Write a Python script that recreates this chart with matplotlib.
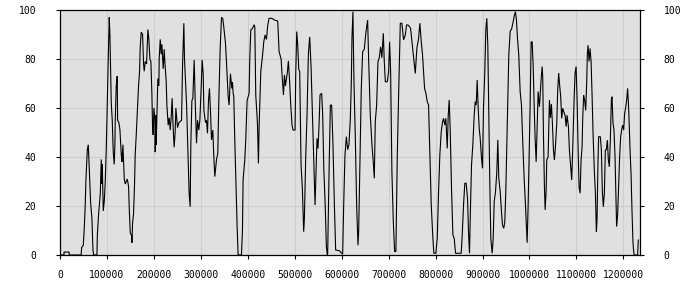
import matplotlib
matplotlib.use("Agg")
import matplotlib.pyplot as plt

positions = [0, 8500, 8600, 19500, 19600, 45000, 46000, 49600, 51700, 53500, 55300, 58200, 60200, 61000, 62400,
    65300, 68000, 70200, 71700, 78700, 79500, 82300, 84400, 85800, 87900, 89300, 90000, 92200, 94300, 96400,
    98500, 100700, 102800, 104900, 106300, 107800, 109200, 111300, 113400, 115500, 116900, 117700, 119800,
    121900, 122700, 125500, 127700, 130500, 131900, 134000, 136900, 139000, 143300, 146100, 147500, 149700,
    152500, 153200, 154600, 156700, 158800, 160200, 162400, 164500, 167300, 169500, 170900, 173000, 175900,
    178000, 179400, 181500, 184400, 187200, 189300, 191500, 193600, 195700, 197100, 198500, 200000, 202100,
    202800, 204200, 204900, 207000, 208400, 210600, 211300, 213500, 215600, 217000, 219900, 221900, 224000,
    226200, 227700, 230500, 232600, 234700, 236800, 238900, 241000, 243100, 245300, 246800, 250300, 253200,
    258900, 261000, 263800, 265200, 269500, 272300, 275100, 277300, 278700, 280900, 283000, 285800, 288000,
    290800, 293000, 295700, 297900, 300700, 302800, 305000, 306500, 310000, 312100, 314200, 316300, 318400,
    320500, 322700, 325500, 327700, 329800, 333300, 336100, 338300, 341100, 344000, 346800, 348900, 352500,
    354600, 358200, 360300, 363100, 366000, 367400, 368800, 370200, 372300, 374500, 377300, 379400, 386500,
    388700, 390000, 393600, 395700, 398500, 402800, 404200, 406400, 410000, 413500, 415000, 417000, 420600,
    422700, 424200, 427700, 431900, 434000, 436900, 439700, 442600, 445400, 451100, 458200, 463800, 466700,
    471000, 473000, 476000, 478100, 480200, 484500, 486500, 489400, 491500, 494300, 496400, 500700, 502100,
    504300, 506400, 508500, 510600, 513500, 516300, 519100, 520600, 523400, 526200, 529100, 531900, 534800,
    537600, 540400, 543300, 545400, 547500, 549600, 551800, 553900, 557400, 559600, 562000, 565000, 567400,
    569500, 570200, 573000, 575900, 578700, 581500, 584500, 587200, 595000, 598500, 602100, 604300, 607000,
    610000, 612800, 615500, 618500, 620600, 621900, 624000, 626200, 629100, 631900, 634800, 636200, 639000,
    641800, 644700, 648200, 651800, 655300, 657400, 661000, 664500, 667300, 669500, 671600, 674500, 677300,
    680100, 683000, 685700, 688700, 690800, 693000, 697200, 700000, 702100, 704300, 707000, 710000, 712800,
    715500, 718500, 721300, 724900, 728300, 731900, 735500, 738300, 741100, 744700, 746800, 751100, 754600,
    756800, 760200, 763800, 766600, 769500, 772300, 774500, 776600, 779400, 782300, 785100, 787900, 790800,
    794300, 796400, 800600, 803600, 806400, 809100, 812100, 814900, 817000, 819800, 821900, 824900, 827000,
    829100, 831300, 834000, 836900, 839700, 842600, 854600, 856800, 859600, 862300, 865200, 868100, 870200,
    872300, 874500, 876600, 879400, 882300, 884500, 886600, 888700, 890800, 893000, 895100, 897900, 900000,
    902100, 904900, 907000, 909100, 911300, 913400, 915500, 917700, 920600, 922800, 924900, 927700, 930500,
    932600, 934700, 937700, 940400, 942600, 945300, 947500, 949600, 951800, 953800, 956000, 958900, 962300,
    965300, 968100, 970200, 972300, 974500, 977300, 980200, 983000, 985700, 988700, 991500, 993600, 995100,
    997200, 999400, 1001500, 1003600, 1005800, 1007900, 1010000, 1012100, 1014300, 1016400, 1018500, 1021300,
    1024800, 1027000, 1028300, 1029800, 1031900, 1033400, 1035500, 1036900, 1039700, 1042600, 1044700, 1046800,
    1048900, 1051100, 1053200, 1055300, 1058200, 1060200, 1062300, 1064500, 1066600, 1068700, 1070900, 1073000,
    1076000, 1078100, 1080200, 1083000, 1085100, 1087900, 1090000, 1092100, 1095100, 1097200, 1099400, 1101500,
    1103600, 1105700, 1107900, 1110000, 1112100, 1113500, 1115500, 1117700, 1119800, 1121900, 1123400, 1124900,
    1127000, 1129100, 1131300, 1133400, 1135500, 1138300, 1140400, 1142600, 1144000, 1146100, 1147400, 1151000,
    1153200, 1155300, 1157400, 1159600, 1161700, 1163800, 1166000, 1168100, 1170200, 1172300, 1174500, 1175900,
    1178000, 1180100, 1182300, 1184500, 1185700, 1187900, 1190000, 1192100, 1194300, 1196400, 1198500, 1200700,
    1202800, 1204900, 1207000, 1209100, 1210600, 1212100, 1214300, 1216400, 1218500, 1220600, 1222800, 1230400,
    1231900]

values = [0, 0, 1.2, 1.2, 0, 0, 3, 4, 11, 19, 31, 43, 45, 41, 35,
    21, 15, 2, 0, 0, 8, 17, 22, 25, 39, 29, 37, 18, 22, 30,
    43, 63, 80, 97, 90, 76, 62, 55, 42, 37, 45, 55, 69,
    73, 55, 54, 51, 41, 38, 45, 31, 29, 31, 28, 19, 9,
    8, 5, 13, 17, 29, 41, 49, 58, 69, 75, 85, 91, 90,
    78, 75, 79, 78, 92, 88, 80, 79, 66, 53, 49, 60, 55,
    42, 57, 45, 61, 72, 69, 80, 88, 82, 86, 76, 84, 77,
    71, 61, 53, 56, 51, 56, 64, 52, 44, 50, 60, 52, 54,
    55, 77, 94.6, 80, 62, 43, 25, 19.7, 45, 63, 64, 79.6, 63,
    45.6, 55, 51, 55, 68, 79.6, 74, 59, 54, 55, 49.7, 63, 68,
    59, 47, 51, 40, 32, 38.8, 41.5, 63, 83.7, 97, 96.5, 93, 86.4,
    78.9, 64.6, 61.2, 74, 68, 70.5, 66, 64.6, 47, 31.8, 11.6, 0, 0,
    10, 30.6, 38.8, 47, 63, 66, 79.6, 91.8, 92.5, 94, 93, 65.3, 53.8,
    37.4, 53, 74.8, 82.3, 87, 89.8, 88, 93.9, 96.6, 96.6, 95.8, 95.5, 83,
    80, 73.5, 65.3, 73.5, 69, 74.8, 79.2, 70, 61.2, 53, 51, 51, 73.5,
    91.2, 85.7, 76, 74.8, 36.7, 27, 9.5, 15, 40, 57, 82, 89, 76.9,
    58.5, 40.8, 20.4, 34, 47.6, 43.5, 53, 65.3, 66, 57, 35, 20, 3.4,
    0, 0.7, 32.7, 61.2, 61.2, 45, 20.4, 2, 1.8, 1, 0.3, 20.4, 40.8,
    48.3, 43, 45, 55.8, 70.7, 88.4, 99.3, 70.7, 47.6, 20.4, 4, 9.5, 38,
    68, 83, 84, 91.2, 95.9, 80.3, 57, 45, 38, 31.3, 54.4, 61.2, 78.9,
    80.5, 85, 80.5, 90.5, 78.9, 70.7, 70.7, 74.8, 87, 74.8, 34, 13.6, 1.4,
    1.4, 40.8, 65.3, 94.6, 94.6, 87.8, 89.8, 93.9, 93.9, 93.2, 92.5, 84.4, 77.6,
    74.1, 84.4, 88.4, 94.6, 87, 81.6, 74.8, 68, 66, 62.6, 61.2, 40.8, 20.4,
    6.8, 0.7, 0.7, 6.8, 25.8, 40.8, 50.3, 54.4, 55.8, 53, 55.8, 43.5, 57,
    63.3, 50.3, 27.2, 8.2, 6.8, 0.7, 0.7, 8.2, 20.4, 29.3, 29.3, 23.1, 9.5,
    0.7, 20.4, 36.7, 45, 57, 62.6, 61.2, 71.4, 59.9, 51.7, 47.6, 39.5, 35.4,
    59.9, 74.8, 91.8, 96.6, 85.7, 57, 29.9, 6.8, 0.7, 6.8, 21.8, 25.8, 34,
    47, 31.3, 25.8, 17.7, 12.2, 10.9, 13.6, 25.8, 44.9, 64, 81.6, 91.2, 92.5,
    95.2, 98, 99.3, 95.9, 88.4, 81.6, 66.7, 61.2, 46.3, 31.3, 20.4, 10.9, 5,
    20.4, 40.8, 61.2, 87, 87, 77.6, 61.2, 47.6, 38, 51.7, 66.7, 60.5,
    71.4, 76.9, 72.8, 49.7, 27.9, 18.4, 25.9, 38.8, 40, 63.3, 56, 61.6,
    53.8, 42.9, 38.8, 44, 53.8, 67.3, 74.3, 68.9, 64.6, 55.8, 59.9, 58.5,
    57, 52.4, 57, 52.4, 42.9, 36, 30.6, 42.9, 63.3, 74.3, 76.9, 63.3,
    44, 27.9, 25.2, 38.8, 44, 55.8, 65.3, 63, 59, 70, 82.3, 85.6,
    79, 84.3, 79, 65.3, 49.7, 33.9, 25.9, 9.5, 14.9, 38.8, 48.3, 48.3,
    42.9, 25.9, 19.7, 25.2, 42.9, 42.9, 46.9, 38.8, 36, 46.9, 63.3, 64.6,
    53.8, 51, 40.1, 22.4, 11.6, 16.7, 27.9, 40, 48.3, 51, 53, 51,
    57.8, 60, 63, 68, 63, 55.8, 42.9, 33.3, 17.7, 4.8, 0, 0,
    6.1]

x_ticks = list(range(0, 1200001, 100000))
y_ticks = [0, 20, 40, 60, 80, 100]
x_max = 1235500

fig = plt.figure(figsize=(7, 3), dpi=100)
ax = fig.add_axes([60/700, 45/300, 580/700, 245/300])
ax.set_facecolor("#e0e0e0")
ax.plot(positions, values, color="black", lw=0.8, solid_joinstyle="miter")
ax.set_xlim(0, x_max)
ax.set_ylim(0, 100)
ax.set_xticks(x_ticks)
ax.set_xticklabels([str(t) for t in x_ticks])
ax.set_yticks(y_ticks)
ax.set_yticklabels([str(t) for t in y_ticks])
ax.grid(True, color="#cecece", lw=0.8)
ax.set_axisbelow(True)
for s in ax.spines.values():
    s.set_color("black")
    s.set_linewidth(0.9)
ax.tick_params(axis="x", direction="out", length=3, width=0.8, pad=7.5, labelsize=7)
ax.tick_params(axis="y", direction="out", length=3, width=0.8, pad=14, labelsize=7,
               left=True, right=True, labelleft=True, labelright=True)
for lab in ax.get_xticklabels() + ax.get_yticklabels():
    lab.set_fontfamily("DejaVu Sans Mono")
for t in ax.yaxis.get_major_ticks():
    t.label2.set_fontfamily("DejaVu Sans Mono")
    t.label2.set_fontsize(7)
fig.savefig("out.png", dpi=100, facecolor="white")
